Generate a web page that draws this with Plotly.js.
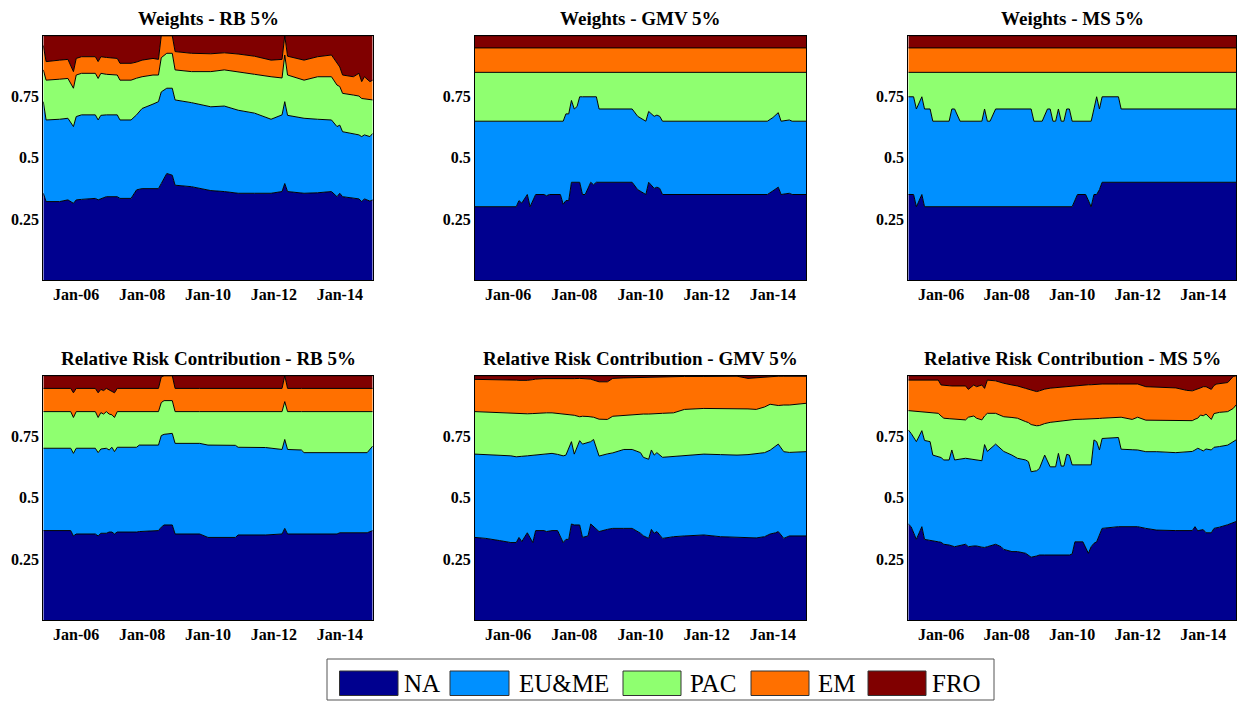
<!DOCTYPE html>
<html>
<head>
<meta charset="utf-8">
<script src="https://cdn.plot.ly/plotly-3.0.1.min.js"></script>
<style>
  html, body { margin: 0; padding: 0; background: #fff; }
  #chart { width: 1240px; height: 702px; }
</style>
</head>
<body>
<div id="chart"></div>
<script>
// Regional blocks and their fill colours
const regions = ['NA', 'EU&ME', 'PAC', 'EM', 'FRO'];
const regionColors = ['#00008F', '#0090FF', '#8FFF70', '#FF7000', '#800000'];

// ---------- Weights - RB 5% ----------
const rbWDates = ['2005-01','2005-02','2005-07','2005-10','2005-12','2006-01','2006-03','2006-08','2006-09','2006-10','2006-12','2007-04','2007-05','2007-09','2007-11','2008-01','2008-05','2008-07','2008-08','2008-10','2008-12','2009-01','2009-07','2010-02','2010-07','2010-12','2011-06','2011-12','2012-04','2012-05','2012-06','2012-12','2013-05','2013-10','2013-12','2014-01','2014-02','2014-06','2014-08','2014-09','2014-10','2014-12','2015-01'];
const rbWNA  = [0.355,0.321,0.321,0.328,0.314,0.328,0.330,0.334,0.328,0.332,0.341,0.341,0.334,0.334,0.369,0.374,0.374,0.374,0.395,0.436,0.429,0.388,0.382,0.366,0.362,0.355,0.355,0.355,0.362,0.395,0.362,0.355,0.357,0.362,0.341,0.355,0.341,0.334,0.332,0.321,0.332,0.323,0.328];
const rbWEU  = [0.375,0.334,0.337,0.334,0.314,0.341,0.346,0.342,0.327,0.342,0.335,0.335,0.321,0.321,0.307,0.328,0.346,0.356,0.375,0.349,0.356,0.349,0.344,0.343,0.350,0.340,0.328,0.303,0.314,0.335,0.312,0.307,0.301,0.293,0.287,0.279,0.266,0.266,0.262,0.266,0.262,0.264,0.272];
const rbWPAC = [0.130,0.163,0.164,0.163,0.157,0.170,0.170,0.170,0.170,0.172,0.166,0.163,0.163,0.163,0.150,0.130,0.119,0.109,0.140,0.143,0.143,0.123,0.127,0.144,0.148,0.158,0.159,0.174,0.151,0.191,0.165,0.156,0.174,0.177,0.170,0.158,0.157,0.157,0.159,0.156,0.147,0.152,0.137];
const rbWEM  = [0.100,0.076,0.078,0.078,0.068,0.068,0.068,0.068,0.069,0.068,0.069,0.068,0.069,0.069,0.066,0.068,0.068,0.064,0.090,0.072,0.072,0.075,0.075,0.073,0.070,0.072,0.074,0.068,0.076,0.079,0.077,0.082,0.082,0.089,0.089,0.080,0.075,0.075,0.093,0.069,0.091,0.073,0.081];
const rbWFRO = [0.040,0.106,0.100,0.097,0.147,0.093,0.086,0.086,0.106,0.086,0.089,0.093,0.113,0.113,0.108,0.100,0.093,0.097,0.000,0.000,0.000,0.065,0.072,0.074,0.070,0.075,0.084,0.100,0.097,0.000,0.084,0.100,0.086,0.079,0.113,0.128,0.161,0.168,0.154,0.188,0.168,0.188,0.182];

// ---------- Weights - GMV 5% ----------
const gmvWDates = ['2005-01','2006-04','2006-05','2006-06','2006-08','2006-09','2006-11','2007-02','2007-03','2007-04','2007-08','2007-09','2007-10','2007-11','2007-12','2008-01','2008-02','2008-03','2008-04','2008-05','2008-07','2008-08','2008-09','2008-10','2009-10','2009-12','2010-03','2010-04','2010-06','2010-07','2010-08','2010-09','2013-11','2014-01','2014-03','2014-04','2014-07','2014-08','2015-01'];
const gmvWNA  = [0.30,0.30,0.325,0.315,0.35,0.30,0.35,0.35,0.345,0.35,0.35,0.31,0.325,0.325,0.40,0.40,0.40,0.40,0.35,0.35,0.40,0.39,0.40,0.40,0.40,0.37,0.35,0.40,0.375,0.38,0.375,0.35,0.35,0.365,0.38,0.35,0.355,0.35,0.35];
const gmvWEU  = [0.35,0.35,0.325,0.335,0.30,0.35,0.30,0.30,0.305,0.30,0.30,0.34,0.355,0.355,0.335,0.30,0.31,0.35,0.40,0.40,0.35,0.36,0.35,0.30,0.30,0.30,0.30,0.29,0.295,0.295,0.295,0.30,0.30,0.30,0.305,0.30,0.30,0.30,0.30];
const gmvWPAC = [0.20,0.20,0.20,0.20,0.20,0.20,0.20,0.20,0.20,0.20,0.20,0.20,0.17,0.17,0.115,0.15,0.14,0.10,0.10,0.10,0.10,0.10,0.10,0.15,0.15,0.18,0.20,0.16,0.18,0.175,0.18,0.20,0.20,0.185,0.165,0.20,0.195,0.20,0.20];
const gmvWEM  = [0.10,0.10,0.10,0.10,0.10,0.10,0.10,0.10,0.10,0.10,0.10,0.10,0.10,0.10,0.10,0.10,0.10,0.10,0.10,0.10,0.10,0.10,0.10,0.10,0.10,0.10,0.10,0.10,0.10,0.10,0.10,0.10,0.10,0.10,0.10,0.10,0.10,0.10,0.10];
const gmvWFRO = [0.05,0.05,0.05,0.05,0.05,0.05,0.05,0.05,0.05,0.05,0.05,0.05,0.05,0.05,0.05,0.05,0.05,0.05,0.05,0.05,0.05,0.05,0.05,0.05,0.05,0.05,0.05,0.05,0.05,0.05,0.05,0.05,0.05,0.05,0.05,0.05,0.05,0.05,0.05];

// ---------- Weights - MS 5% ----------
const msWDates = ['2005-01','2005-03','2005-04','2005-06','2005-07','2005-09','2005-10','2006-04','2006-05','2006-06','2006-08','2007-04','2007-05','2007-06','2007-07','2007-09','2008-10','2008-11','2009-02','2009-04','2009-05','2009-06','2009-07','2009-08','2009-09','2009-10','2009-11','2009-12','2010-01','2010-03','2010-06','2010-08','2010-09','2010-10','2010-11','2010-12','2011-06','2011-07','2015-01'];
const msWNA  = [0.35,0.35,0.30,0.35,0.30,0.30,0.30,0.30,0.30,0.30,0.30,0.30,0.30,0.30,0.30,0.30,0.30,0.30,0.30,0.30,0.30,0.30,0.30,0.30,0.30,0.30,0.30,0.30,0.30,0.35,0.35,0.30,0.35,0.35,0.37,0.40,0.40,0.40,0.40];
const msWEU  = [0.40,0.40,0.40,0.40,0.40,0.40,0.35,0.35,0.40,0.40,0.35,0.35,0.40,0.35,0.35,0.40,0.40,0.35,0.35,0.40,0.40,0.35,0.35,0.40,0.35,0.35,0.40,0.40,0.35,0.30,0.30,0.35,0.35,0.40,0.33,0.35,0.35,0.30,0.30];
const msWPAC = [0.10,0.10,0.15,0.10,0.15,0.15,0.20,0.20,0.15,0.15,0.20,0.20,0.15,0.20,0.20,0.15,0.15,0.20,0.20,0.15,0.15,0.20,0.20,0.15,0.20,0.20,0.15,0.15,0.20,0.20,0.20,0.20,0.15,0.10,0.15,0.10,0.10,0.15,0.15];
const msWEM  = [0.10,0.10,0.10,0.10,0.10,0.10,0.10,0.10,0.10,0.10,0.10,0.10,0.10,0.10,0.10,0.10,0.10,0.10,0.10,0.10,0.10,0.10,0.10,0.10,0.10,0.10,0.10,0.10,0.10,0.10,0.10,0.10,0.10,0.10,0.10,0.10,0.10,0.10,0.10];
const msWFRO = [0.05,0.05,0.05,0.05,0.05,0.05,0.05,0.05,0.05,0.05,0.05,0.05,0.05,0.05,0.05,0.05,0.05,0.05,0.05,0.05,0.05,0.05,0.05,0.05,0.05,0.05,0.05,0.05,0.05,0.05,0.05,0.05,0.05,0.05,0.05,0.05,0.05,0.05,0.05];

// ---------- Relative Risk Contribution - RB 5% ----------
const rbRDates = ['2005-01','2005-11','2005-12','2006-01','2006-08','2006-09','2006-10','2006-11','2006-12','2007-01','2007-02','2007-03','2007-04','2007-11','2007-12','2008-07','2008-08','2008-09','2008-12','2009-01','2009-10','2010-01','2010-11','2010-12','2011-10','2012-04','2012-05','2012-06','2012-11','2012-12','2013-12','2014-01','2014-11','2015-01'];
const rbRNA  = [0.366,0.366,0.344,0.352,0.352,0.344,0.355,0.355,0.355,0.360,0.360,0.352,0.360,0.360,0.362,0.366,0.380,0.389,0.389,0.352,0.352,0.338,0.338,0.348,0.348,0.352,0.375,0.352,0.352,0.352,0.352,0.357,0.357,0.366];
const rbREU  = [0.337,0.337,0.338,0.351,0.351,0.341,0.345,0.348,0.348,0.336,0.347,0.337,0.347,0.347,0.354,0.350,0.375,0.371,0.375,0.371,0.371,0.378,0.377,0.359,0.358,0.346,0.364,0.346,0.344,0.333,0.333,0.328,0.328,0.346];
const rbRPAC = [0.150,0.150,0.147,0.150,0.150,0.144,0.149,0.140,0.150,0.147,0.133,0.140,0.146,0.146,0.137,0.137,0.135,0.138,0.134,0.130,0.130,0.137,0.138,0.146,0.147,0.155,0.155,0.155,0.157,0.168,0.168,0.168,0.168,0.141];
const rbREM  = [0.095,0.095,0.101,0.095,0.095,0.101,0.095,0.096,0.095,0.098,0.095,0.101,0.095,0.095,0.095,0.095,0.105,0.102,0.102,0.095,0.095,0.095,0.095,0.095,0.095,0.095,0.106,0.095,0.095,0.095,0.095,0.095,0.095,0.095];
const rbRFRO = [0.052,0.052,0.070,0.052,0.052,0.070,0.056,0.061,0.052,0.059,0.065,0.070,0.052,0.052,0.052,0.052,0.005,0.000,0.000,0.052,0.052,0.052,0.052,0.052,0.052,0.052,0.000,0.052,0.052,0.052,0.052,0.052,0.052,0.052];

// ---------- Relative Risk Contribution - GMV 5% ----------
const gmvRDates = ['2005-01','2005-05','2005-10','2006-02','2006-04','2006-05','2006-06','2006-08','2006-10','2006-11','2007-02','2007-03','2007-05','2007-07','2007-09','2007-10','2007-11','2007-12','2008-01','2008-03','2008-04','2008-06','2008-07','2008-08','2008-10','2009-01','2009-03','2009-07','2009-10','2010-01','2010-02','2010-04','2010-05','2010-06','2010-07','2010-09','2011-01','2011-05','2011-12','2012-06','2012-12','2013-04','2013-07','2013-10','2013-12','2014-02','2014-03','2014-05','2014-07','2015-01'];
const gmvRNA  = [0.338,0.334,0.325,0.317,0.317,0.338,0.321,0.357,0.317,0.366,0.366,0.362,0.366,0.366,0.317,0.330,0.330,0.393,0.389,0.389,0.338,0.344,0.393,0.382,0.362,0.371,0.375,0.375,0.375,0.355,0.345,0.334,0.371,0.355,0.362,0.334,0.341,0.344,0.348,0.341,0.338,0.338,0.336,0.341,0.352,0.357,0.362,0.334,0.344,0.344];
const gmvREU  = [0.341,0.343,0.350,0.355,0.351,0.330,0.349,0.315,0.357,0.310,0.312,0.317,0.316,0.312,0.355,0.345,0.370,0.337,0.290,0.345,0.382,0.381,0.337,0.357,0.309,0.309,0.309,0.323,0.323,0.330,0.321,0.324,0.325,0.320,0.323,0.332,0.329,0.329,0.331,0.336,0.337,0.339,0.344,0.344,0.343,0.355,0.358,0.355,0.342,0.345];
const gmvRPAC = [0.174,0.174,0.173,0.173,0.176,0.175,0.173,0.172,0.171,0.170,0.169,0.169,0.166,0.168,0.171,0.167,0.141,0.110,0.159,0.098,0.114,0.108,0.102,0.091,0.151,0.141,0.150,0.140,0.143,0.157,0.177,0.185,0.148,0.170,0.160,0.180,0.178,0.189,0.187,0.189,0.191,0.187,0.182,0.187,0.188,0.168,0.158,0.191,0.194,0.198];
const gmvREM  = [0.132,0.134,0.137,0.138,0.138,0.138,0.137,0.137,0.139,0.140,0.141,0.140,0.139,0.139,0.142,0.143,0.145,0.147,0.150,0.157,0.155,0.155,0.154,0.152,0.153,0.154,0.155,0.153,0.151,0.152,0.151,0.151,0.151,0.150,0.150,0.150,0.148,0.135,0.131,0.132,0.132,0.125,0.130,0.121,0.115,0.118,0.120,0.118,0.118,0.111];
const gmvRFRO = [0.015,0.015,0.015,0.017,0.018,0.019,0.020,0.019,0.016,0.014,0.012,0.012,0.013,0.015,0.015,0.015,0.014,0.013,0.012,0.011,0.011,0.012,0.014,0.018,0.025,0.025,0.011,0.009,0.008,0.006,0.006,0.006,0.005,0.005,0.005,0.004,0.004,0.003,0.003,0.002,0.002,0.011,0.008,0.007,0.002,0.002,0.002,0.002,0.002,0.002];

// ---------- Relative Risk Contribution - MS 5% ----------
const msRDates = ['2005-01','2005-02','2005-04','2005-06','2005-07','2005-09','2005-10','2005-12','2006-01','2006-02','2006-04','2006-05','2006-06','2006-10','2006-11','2007-01','2007-02','2007-04','2007-05','2007-06','2007-09','2007-11','2007-12','2008-03','2008-05','2008-08','2008-09','2008-10','2008-12','2009-01','2009-03','2009-05','2009-07','2009-08','2009-09','2009-10','2009-11','2009-12','2010-01','2010-02','2010-05','2010-07','2010-08','2010-09','2010-10','2010-11','2010-12','2011-06','2011-07','2011-11','2012-01','2012-04','2012-08','2013-03','2013-07','2013-09','2013-10','2013-11','2013-12','2014-01','2014-02','2014-04','2014-05','2014-06','2014-07','2014-10','2014-12','2015-01'];
const msRNA  = [0.393,0.382,0.330,0.382,0.330,0.325,0.322,0.320,0.318,0.310,0.307,0.305,0.300,0.310,0.300,0.303,0.303,0.298,0.297,0.300,0.310,0.300,0.289,0.280,0.280,0.273,0.265,0.257,0.262,0.266,0.266,0.266,0.266,0.266,0.266,0.266,0.266,0.266,0.270,0.320,0.320,0.273,0.300,0.314,0.320,0.350,0.375,0.382,0.382,0.382,0.382,0.375,0.368,0.366,0.365,0.366,0.382,0.365,0.368,0.370,0.357,0.357,0.375,0.377,0.380,0.390,0.398,0.403];
const msREU  = [0.385,0.382,0.400,0.393,0.405,0.405,0.353,0.350,0.347,0.345,0.348,0.391,0.355,0.352,0.360,0.355,0.352,0.354,0.421,0.390,0.410,0.400,0.401,0.395,0.382,0.382,0.383,0.350,0.349,0.354,0.409,0.361,0.361,0.416,0.364,0.364,0.412,0.409,0.365,0.315,0.315,0.362,0.335,0.423,0.410,0.346,0.368,0.365,0.317,0.315,0.314,0.314,0.321,0.319,0.324,0.324,0.314,0.338,0.330,0.322,0.343,0.339,0.332,0.331,0.330,0.326,0.330,0.334];
const msRPAC = [0.079,0.092,0.123,0.076,0.114,0.118,0.172,0.176,0.170,0.171,0.169,0.127,0.166,0.157,0.170,0.177,0.171,0.167,0.117,0.156,0.126,0.138,0.142,0.154,0.164,0.157,0.160,0.193,0.184,0.176,0.129,0.182,0.185,0.132,0.186,0.187,0.140,0.145,0.186,0.186,0.187,0.187,0.188,0.087,0.095,0.129,0.083,0.085,0.131,0.124,0.134,0.129,0.128,0.131,0.127,0.126,0.126,0.123,0.141,0.144,0.143,0.125,0.138,0.141,0.140,0.137,0.138,0.143];
const msREM  = [0.125,0.126,0.129,0.131,0.133,0.134,0.135,0.136,0.127,0.134,0.135,0.135,0.137,0.139,0.114,0.127,0.129,0.143,0.113,0.136,0.133,0.134,0.137,0.133,0.132,0.136,0.136,0.140,0.140,0.142,0.141,0.140,0.139,0.139,0.139,0.139,0.139,0.138,0.139,0.139,0.140,0.141,0.140,0.140,0.140,0.140,0.140,0.134,0.136,0.145,0.136,0.137,0.136,0.134,0.124,0.122,0.120,0.119,0.111,0.119,0.112,0.123,0.115,0.117,0.118,0.119,0.131,0.120];
const msRFRO = [0.018,0.018,0.018,0.018,0.018,0.018,0.018,0.018,0.038,0.040,0.041,0.042,0.042,0.042,0.056,0.038,0.045,0.038,0.052,0.018,0.021,0.028,0.031,0.038,0.042,0.052,0.056,0.060,0.065,0.062,0.055,0.051,0.049,0.047,0.045,0.044,0.043,0.042,0.040,0.040,0.038,0.037,0.037,0.036,0.035,0.035,0.034,0.034,0.034,0.034,0.034,0.045,0.047,0.050,0.060,0.062,0.058,0.055,0.050,0.045,0.045,0.056,0.040,0.034,0.032,0.028,0.003,0.000];

// Tick labels
const yTickVals = [0.25, 0.5, 0.75];
const yTickText = ['0.25', '0.5', '0.75'];

const panels = [
  { title: 'Weights - RB 5%',  dates: rbWDates,  series: [rbWNA, rbWEU, rbWPAC, rbWEM, rbWFRO] },
  { title: 'Weights - GMV 5%', dates: gmvWDates, series: [gmvWNA, gmvWEU, gmvWPAC, gmvWEM, gmvWFRO] },
  { title: 'Weights - MS 5%',  dates: msWDates,  series: [msWNA, msWEU, msWPAC, msWEM, msWFRO] },
  { title: 'Relative Risk Contribution - RB 5%',  dates: rbRDates,  series: [rbRNA, rbREU, rbRPAC, rbREM, rbRFRO] },
  { title: 'Relative Risk Contribution - GMV 5%', dates: gmvRDates, series: [gmvRNA, gmvREU, gmvRPAC, gmvREM, gmvRFRO] },
  { title: 'Relative Risk Contribution - MS 5%',  dates: msRDates,  series: [msRNA, msREU, msRPAC, msREM, msRFRO] }
];

// Page geometry in pixels
const W = 1240, H = 702;
const px = v => v / W;
const py = v => 1 - v / H;
const colSpans = [[43.3, 372.7], [475, 806], [908.3, 1236]];
const rowSpans = [[35.7, 280], [375.7, 620]];
const titleY = [18, 358];

const serif = 'Liberation Serif, Times New Roman, serif';
const traces = [];
const layout = {
  width: W, height: H,
  margin: { l: 0, r: 0, t: 0, b: 0 },
  paper_bgcolor: '#fff', plot_bgcolor: '#fff',
  showlegend: false,
  annotations: [], shapes: []
};

panels.forEach((p, i) => {
  const col = i % 3, row = Math.floor(i / 3);
  const suffix = i === 0 ? '' : String(i + 1);
  const xa = 'x' + suffix, ya = 'y' + suffix;
  p.series.forEach((vals, r) => {
    traces.push({
      type: 'scatter', mode: 'lines',
      x: p.dates, y: vals,
      stackgroup: 'g' + i,
      name: regions[r],
      line: { color: '#000', width: 1, shape: 'linear' },
      fillcolor: regionColors[r],
      xaxis: xa, yaxis: ya,
      hoverinfo: 'skip', showlegend: false
    });
  });
  const [x0, x1] = colSpans[col];
  const [y0, y1] = rowSpans[row];
  layout['xaxis' + suffix] = {
    domain: [px(x0), px(x1)], anchor: ya,
    type: 'date', range: ['2005-01-01', '2015-01-01'],
    tick0: '2006-01-01', dtick: 'M24', tickformat: '%b-%y',
    ticks: '', showgrid: false, zeroline: false,
    showline: true, mirror: true, linecolor: '#000', linewidth: 1,
    tickfont: { family: serif, size: 16, color: '#000', weight: 'bold' },
    fixedrange: true
  };
  layout['yaxis' + suffix] = {
    domain: [py(y1), py(y0)], anchor: xa,
    range: [0, 1], tickvals: yTickVals, ticktext: yTickText,
    ticks: '', showgrid: false, zeroline: false,
    showline: true, mirror: true, linecolor: '#000', linewidth: 1,
    tickfont: { family: serif, size: 16, color: '#000', weight: 'bold' },
    fixedrange: true
  };
  layout.annotations.push({
    xref: 'paper', yref: 'paper',
    x: px((x0 + x1) / 2), y: py(titleY[row]),
    xanchor: 'center', yanchor: 'middle',
    text: p.title, showarrow: false,
    font: { family: serif, size: 19, color: '#000', weight: 'bold' }
  });
});

// Legend box with wide swatches
const legendBox = { x0: 327, x1: 994, y0: 659, y1: 700 };
const swatchX = [[339.5, 398], [450, 509], [623, 681], [751, 809], [868, 926]];
const labelX = [402, 517, 688, 816, 930];
const swatchY = [671, 695.5];
layout.shapes.push({
  type: 'rect', xref: 'paper', yref: 'paper',
  x0: px(legendBox.x0), x1: px(legendBox.x1), y0: py(legendBox.y1), y1: py(legendBox.y0),
  line: { color: '#555', width: 1 }, fillcolor: '#fff', layer: 'below'
});
regions.forEach((name, r) => {
  layout.shapes.push({
    type: 'rect', xref: 'paper', yref: 'paper',
    x0: px(swatchX[r][0]), x1: px(swatchX[r][1]), y0: py(swatchY[1]), y1: py(swatchY[0]),
    line: { color: '#333', width: 1 }, fillcolor: regionColors[r]
  });
  layout.annotations.push({
    xref: 'paper', yref: 'paper',
    x: px(labelX[r]), y: py((swatchY[0] + swatchY[1]) / 2),
    xanchor: 'left', yanchor: 'middle',
    text: name.replace('&', '&amp;'), showarrow: false,
    font: { family: serif, size: 25, color: '#000' }
  });
});

Plotly.newPlot('chart', traces, layout, { staticPlot: true, displayModeBar: false });
</script>
</body>
</html>
